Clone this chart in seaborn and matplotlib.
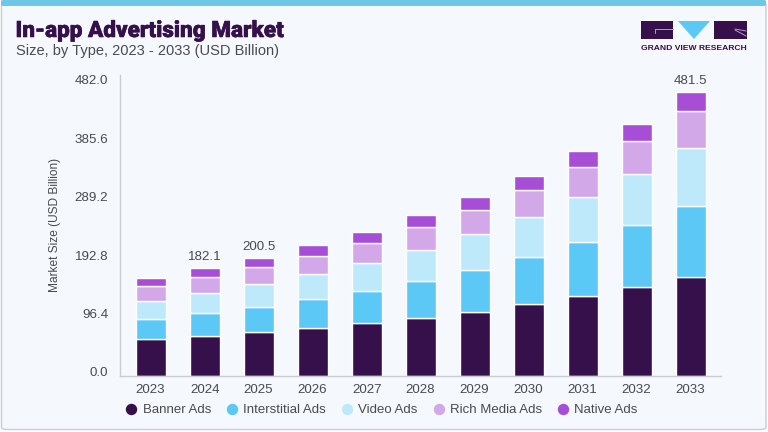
import numpy as np
import matplotlib
matplotlib.use("Agg")
import matplotlib.pyplot as plt
import matplotlib.patheffects as pe
import matplotlib.transforms as mtrans
from matplotlib.lines import Line2D
from matplotlib.patches import FancyBboxPatch, Polygon, Rectangle
import seaborn as sns

years = [2023, 2024, 2025, 2026, 2027, 2028, 2029, 2030, 2031, 2032, 2033]

banner = [58.7, 64.6, 70.5, 77.4, 84.9, 93.4, 103.0, 114.8, 127.6, 142.5, 159.1]
interstitial = [33.1, 36.3, 40.5, 45.9, 51.2, 58.7, 66.8, 75.8, 87.0, 99.3, 113.7]
video = [28.8, 32.0, 36.3, 39.5, 44.9, 50.2, 57.1, 63.5, 72.1, 81.7, 92.9]
rich_media = [23.0, 25.1, 27.3, 29.9, 32.5, 35.8, 38.9, 43.2, 48.0, 53.4, 59.2]
native = [13.3, 14.4, 14.9, 16.5, 17.6, 19.7, 20.9, 23.0, 25.1, 27.2, 29.9]

series_names = ["Banner Ads", "Interstitial Ads", "Video Ads", "Rich Media Ads", "Native Ads"]
series_values = [banner, interstitial, video, rich_media, native]
series_colors = ["#35104A", "#5BC8F5", "#BDE9FB", "#D2A8E9", "#A64FD6"]

y_ticks = [0.0, 96.4, 192.8, 289.2, 385.6, 482.0]

# only these three years carry a label in the original
total_labels = {2024: "182.1", 2025: "200.5", 2033: "481.5"}

W, H = 768, 432
FONT = "Liberation Sans"
TEXT = "#4A4A50"
DARK = "#35104A"


def px(x, y):
    # pixel position (from top left) to figure fraction
    return x / W, 1 - y / H


sns.set_theme(style="white")
plt.rcParams["font.family"] = [FONT, "DejaVu Sans"]

fig = plt.figure(figsize=(7.68, 4.32), dpi=100, facecolor="white")

# card background
card = FancyBboxPatch((1.5 / W, 2.5 / H), 764.5 / W, 427 / H, boxstyle="round,pad=0,rounding_size=0.008",
                      transform=fig.transFigure, facecolor="#F5F9FD", edgecolor="#C9CCD0", linewidth=1.0,
                      mutation_aspect=H / W, zorder=-2)
fig.add_artist(card)
band = FancyBboxPatch((1 / W, 1 - 6 / H), 765 / W, 6 / H, boxstyle="round,pad=0,rounding_size=0.004",
                      transform=fig.transFigure, facecolor="#6FC7E8", edgecolor="none",
                      mutation_aspect=H / W, zorder=-1)
fig.add_artist(band)

ax = fig.add_axes([120 / W, 1 - 376 / H, 600.7 / W, 301 / H])
ax.patch.set_alpha(0)

bottom = np.zeros(len(years))
for name, values, color in zip(series_names, series_values, series_colors):
    sns.barplot(x=years, y=values, bottom=bottom, color=color, saturation=1, width=0.55, ax=ax, label=name)
    bottom = bottom + np.array(values)

ax.set_xlim(-0.568, 10.556)
ax.set_ylim(0, 482)
ax.set_yticks(y_ticks)
ax.set_yticklabels([f"{t:.1f}" for t in y_ticks])
ax.set_xticks(range(len(years)))
ax.set_xticklabels(years)
ax.tick_params(axis="y", length=5, width=0.9, color="#C9CCD0", pad=3.5, labelsize=9.6, labelcolor=TEXT)
ax.tick_params(axis="x", length=0, pad=6, labelsize=9.6, labelcolor=TEXT)

# the tick labels sit a few pixels off the scale in the original
label_shift = [4, 2.5, 0.6, -1.3, -3.7, -5]
for lab, dy in zip(ax.get_yticklabels(), label_shift):
    lab.set_transform(lab.get_transform() + mtrans.ScaledTranslation(0, dy / 100, fig.dpi_scale_trans))

sns.despine(ax=ax)
for side in ["left", "bottom"]:
    ax.spines[side].set_color("#C9CCD0")
    ax.spines[side].set_linewidth(1.0)

for year, label in total_labels.items():
    i = years.index(year)
    ax.annotate(label, (i, bottom[i]), xytext=(0, 3.5), textcoords="offset points", ha="center", va="bottom",
                fontsize=9.6, color=TEXT)

fig.text(*px(55, 224.5), "Market Size (USD Billion)", rotation=90, ha="center", va="center", fontsize=8.6, color=TEXT)

title = fig.text(*px(15.5, 31), "In-app Advertising Market", ha="left", va="center", fontsize=16.2, color=DARK,
                 family="Roboto", weight=900)
title.set_path_effects([pe.withStroke(linewidth=0.4, foreground=DARK)])
fig.text(*px(15.5, 51), "Size, by Type, 2023 - 2033 (USD Billion)", ha="left", va="center", fontsize=10.5, color=TEXT)

# legend
handles = [Line2D([], [], linestyle="none", marker="o", markersize=7.2, color=c, label=n)
           for n, c in zip(series_names, series_colors)]
ax.legend(handles=handles, ncols=5, loc="center", bbox_to_anchor=px(380.5, 410), bbox_transform=fig.transFigure,
          frameon=False, fontsize=9.5, labelcolor=TEXT, handletextpad=0.25, columnspacing=0.99, handlelength=1.2)

# logo
fig.add_artist(Rectangle(px(641.3, 39), 32 / W, 18 / H, transform=fig.transFigure, facecolor=DARK, edgecolor="none"))
fig.add_artist(Rectangle(px(714.3, 39), 32.3 / W, 18 / H, transform=fig.transFigure, facecolor=DARK, edgecolor="none"))
fig.add_artist(Polygon([px(678, 21), px(710, 21), px(694, 39)], transform=fig.transFigure, facecolor="#5BC8F5",
                       edgecolor="none"))
fig.add_artist(Line2D([px(655, 33)[0], px(655, 29)[0], px(673, 29)[0]], [px(655, 33)[1], px(655, 29)[1], px(673, 29)[1]],
                      transform=fig.transFigure, color="#B79CC8", linewidth=0.7))
fig.add_artist(Line2D([px(735, 29)[0], px(746, 31)[0]], [px(735, 29)[1], px(746, 31)[1]],
                      transform=fig.transFigure, color="#B79CC8", linewidth=0.7))
fig.add_artist(Line2D([px(735, 30)[0], px(746, 36)[0]], [px(735, 30)[1], px(746, 36)[1]],
                      transform=fig.transFigure, color="#B79CC8", linewidth=0.7))
fig.text(*px(694, 48), "GRAND VIEW RESEARCH", ha="center", va="center", fontsize=6.1, color=DARK, weight="bold",
         family="Liberation Sans")

fig.savefig("out.png", dpi=100, facecolor="white")
